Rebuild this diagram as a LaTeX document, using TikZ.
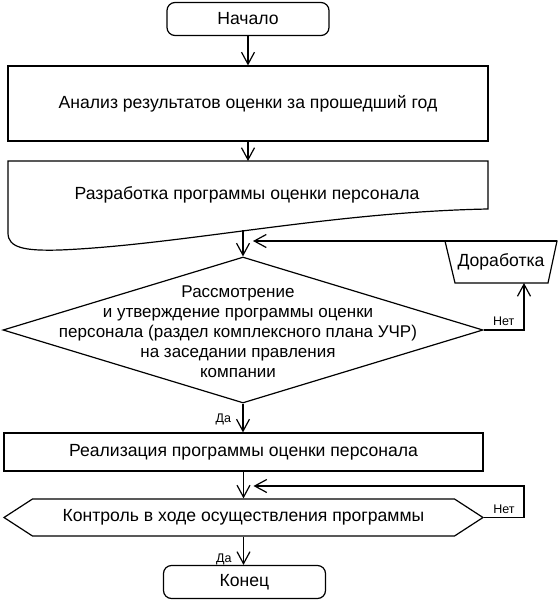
\documentclass[tikz,border=0pt]{standalone}
\usepackage{fontspec}
\setmainfont{Liberation Sans}
\usetikzlibrary{shapes.geometric,shapes.symbols,arrows.meta}

\begin{document}
\begin{tikzpicture}[x=1pt, y=-1pt, line width=1.2pt,
  every node/.style={font=\fontsize{17.6}{20}\selectfont},
  arr/.style={-{Straight Barb[length=12pt,width=13pt,line width=1.2pt]}},
  term/.style={draw, rounded corners=8pt, minimum width=162pt, minimum height=33pt},
  proc/.style={draw, inner sep=0pt},
  small/.style={font=\fontsize{12.5}{14}\selectfont}]
\useasboundingbox (0,0) rectangle (558,600);

\node[term] (start) at (248,19) {Начало};
\node[proc, minimum width=480pt, minimum height=75pt] (analysis) at (248,103.5)
{Анализ результатов оценки за прошедший год};

% document shape
\draw (8,161) -- (488,161) -- (488,209) .. controls (330,212) and (180,245) .. (60,250)
  .. controls (25,251) and (8,248) .. (8,233) -- cycle;
\node (develop) at (247,195) {Разработка программы оценки персонала};
\coordinate (devtop) at (246,161);
\coordinate (devbot) at (246,230);

\node[draw, diamond, minimum width=480pt, minimum height=146pt, inner sep=0pt] (review) at (243,330) {};
\node[align=center, font=\fontsize{17}{20}\selectfont] (reviewtext) at (238,332) {Рассмотрение\\и утверждение программы оценки\\персонала (раздел комплексного плана УЧР)\\на заседании правления\\компании};

% trapezium
\node (rework) at (501,262) {Доработка};
\draw (445,241) -- (557,241) -- (548,283) -- (455,283) -- cycle;
\coordinate (rwin) at (524,283);
\coordinate (rwout) at (557,241);

\node[proc, minimum width=479pt, minimum height=38pt] (impl) at (243.5,452)
{Реализация программы оценки персонала};
\node[draw, signal, signal to=east and west, signal pointer angle=66,
  minimum width=479pt, minimum height=37pt, inner sep=0pt] (control) at (243.5,517.5)
{Контроль в ходе осуществления программы};
\coordinate (loop) at (524,486);

\node[term] (finish) at (244.5,582) {Конец};

\draw[arr] (start.south) -- (start.south |- analysis.north);
\draw[arr] (analysis.south) -- (analysis.south |- devtop);
\draw[arr] (review.north |- devbot) -- (review.north);
\draw[arr] (review.south) -- node[left=8pt, small, pos=0.55] (yes1) {Да} (review.south |- impl.north);
\draw[arr] (impl.south) -- (impl.south |- control.north);
\draw[arr] (control.south) -- node[left=8pt, small, pos=0.8] (yes2) {Да} (control.south |- finish.north);

\draw[arr] (review.east) -- node[above, small] (no1) {Нет} (review.east -| rwin) -- (rwin);
\draw[arr, shorten >=10pt] (rwout) -- (rwout -| review.north);
\draw[arr, shorten >=10pt] (control.east) -- node[above, small] (no2) {Нет} (control.east -| loop)
  -- (loop) -- (loop -| control.north);

\end{tikzpicture}
\end{document}
